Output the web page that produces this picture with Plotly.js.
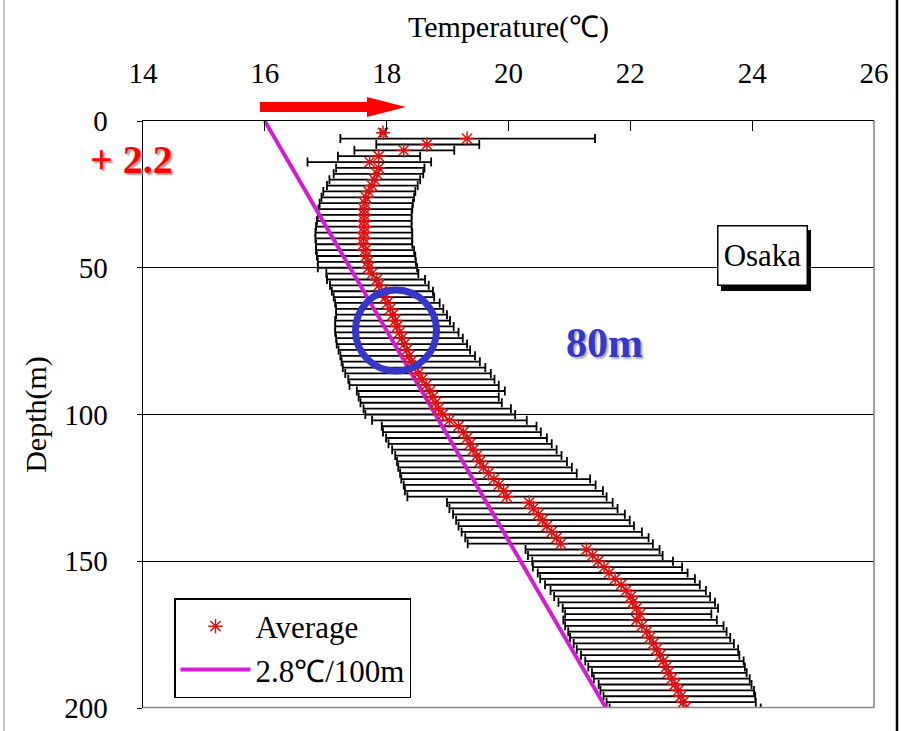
<!DOCTYPE html>
<html><head><meta charset="utf-8">
<script src="https://cdn.plot.ly/plotly-3.0.1.min.js"></script>
<style>html,body{margin:0;padding:0;background:#fff}#chart{width:901px;height:731px}</style>
</head><body><div id="chart"></div>
<script>
// ---- data ----
const depth = [4,6,8,10,12,14,16,18,20,22,24,26,28,30,32,34,36,38,40,42,44,46,48,50,
  52,54,56,58,60,62,64,66,68,70,72,74,76,78,80,82,84,86,88,90,92,94,96,98,100,
  102,104,106,108,110,112,114,116,118,120,122,124,126,128,130,132,134,136,138,140,142,144,146,148,150,
  152,154,156,158,160,162,164,166,168,170,172,174,176,178,180,182,184,186,188,190,192,194,196,198,200];
const avgT = [17.94,19.32,18.66,18.28,17.87,17.72,17.87,17.84,17.80,17.76,17.70,17.66,17.64,17.63,17.63,17.63,17.63,17.63,17.62,17.62,17.65,17.66,17.69,17.70,
  17.76,17.84,17.87,17.92,17.98,18.01,18.06,18.10,18.14,18.17,18.21,18.25,18.29,18.33,18.37,18.40,18.47,18.52,18.58,18.65,18.71,18.76,18.80,18.85,18.92,
  19.03,19.18,19.26,19.32,19.37,19.42,19.48,19.53,19.59,19.67,19.76,19.84,19.92,19.97,20.34,20.41,20.49,20.56,20.63,20.71,20.79,20.86,21.28,21.38,21.47,
  21.57,21.65,21.75,21.85,21.93,22.01,22.04,22.10,22.16,22.10,22.19,22.27,22.32,22.38,22.43,22.49,22.54,22.59,22.62,22.68,22.73,22.79,22.83,22.87,22.90];
const minT = [17.90,17.24,17.83,17.47,17.20,16.70,17.17,17.13,17.06,17.02,16.96,16.93,16.90,16.88,16.87,16.855,16.84,16.83,16.83,16.84,16.84,16.855,16.87,16.87,
  17.01,17.02,17.07,17.10,17.13,17.155,17.17,17.17,17.155,17.155,17.155,17.17,17.18,17.21,17.24,17.26,17.28,17.32,17.37,17.39,17.51,17.54,17.57,17.62,17.65,
  17.76,17.92,17.94,17.99,18.03,18.09,18.14,18.17,18.19,18.22,18.24,18.28,18.30,18.34,18.99,19.03,19.09,19.14,19.18,19.23,19.29,19.33,20.28,20.32,20.39,
  20.40,20.48,20.52,20.60,20.69,20.75,20.82,20.89,20.93,20.90,20.93,20.98,21.01,21.07,21.12,21.19,21.26,21.31,21.37,21.40,21.48,21.51,21.56,21.61,21.66];
const maxT = [17.98,21.42,19.52,19.11,18.55,18.73,18.62,18.60,18.55,18.51,18.47,18.45,18.43,18.42,18.41,18.41,18.41,18.42,18.42,18.42,18.45,18.47,18.48,18.50,
  18.52,18.63,18.69,18.76,18.78,18.87,18.93,18.99,19.04,19.10,19.18,19.25,19.32,19.37,19.45,19.53,19.62,19.71,19.77,19.84,19.94,19.84,19.89,20.04,20.11,
  20.30,20.46,20.53,20.63,20.71,20.79,20.87,20.96,21.04,21.12,21.34,21.43,21.55,21.61,21.71,21.79,21.91,21.99,22.06,22.19,22.30,22.37,22.48,22.53,22.70,
  22.85,22.94,23.06,23.14,23.24,23.31,23.39,23.44,23.33,23.42,23.53,23.58,23.64,23.70,23.77,23.79,23.86,23.88,23.91,23.96,23.99,24.03,24.05,24.06,24.14];
const gradT = [16, 21.6];
const gradDepth = [0, 200];
const xTickVals = [14, 16, 18, 20, 22, 24, 26];
const yTickVals = [0, 50, 100, 150, 200];

// ---- layout helpers (pixel -> paper) ----
const L = 143, R = 874, T = 121, B = 708;
const px = x => (x - L) / (R - L);
const py = y => (B - y) / (B - T);
const serif = '"Liberation Serif", "Times New Roman", Times, serif';

const errPlus = maxT.map((v, i) => v - avgT[i]);
const errMinus = avgT.map((v, i) => v - minT[i]);

const traces = [
  {x: avgT, y: depth, type: 'scatter', mode: 'markers',
   marker: {size: 2, opacity: 0}, showlegend: false, hoverinfo: 'skip',
   error_x: {type: 'data', symmetric: false, array: errPlus, arrayminus: errMinus,
             color: '#000', thickness: 1.8, width: 4.5}},
  {x: gradT, y: gradDepth, type: 'scatter', mode: 'lines', name: '2.8℃/100m',
   line: {color: '#d41cd4', width: 4}, legendrank: 2},
  {x: avgT, y: depth, type: 'scatter', mode: 'markers', name: 'Average',
   marker: {symbol: 'asterisk-open', size: 12, color: '#dd1010', line: {color: '#dd1010', width: 1.5}},
   legendrank: 1}
];

const arrowPts = [[260,102],[367,102],[367,97],[406,107],[367,117],[367,112],[260,112]];
const arrowPath = arrowPts.map((p, i) => (i ? 'L' : 'M') + px(p[0]) + ',' + py(p[1])).join('') + 'Z';

const layout = {
  width: 901, height: 731,
  margin: {l: 143, r: 27, t: 121, b: 23, pad: 0},
  paper_bgcolor: '#fff', plot_bgcolor: '#fff',
  font: {family: serif, color: '#000'},
  xaxis: {side: 'top', range: [14, 26], tickvals: xTickVals, ticks: 'inside', ticklen: 10,
          tickwidth: 1.3, tickcolor: '#000', showline: true, linecolor: '#000', linewidth: 1.5,
          showgrid: false, zeroline: false, tickfont: {size: 29, family: serif}, ticklabelstandoff: 25,
          title: {text: 'Temperature(℃)', font: {size: 30, family: serif}, standoff: 10}},
  yaxis: {range: [200, 0], tickvals: yTickVals, ticks: 'outside', ticklen: 5, tickcolor: '#000',
          showline: true, linecolor: '#000', linewidth: 1.5, showgrid: true, gridcolor: '#000',
          gridwidth: 1.2, zeroline: false, tickfont: {size: 29, family: serif}, ticklabelstandoff: 23,
          title: {text: 'Depth(m)', font: {size: 30, family: serif}, standoff: 8}},
  legend: {x: px(174), y: py(598), xanchor: 'left', yanchor: 'top', bordercolor: '#000',
           borderwidth: 1.5, bgcolor: '#fff', font: {size: 31, family: serif}, itemwidth: 70,
           tracegroupgap: 0},
  shapes: [
    {type: 'line', xref: 'paper', yref: 'paper', x0: px(143), x1: px(874), y0: py(707.5), y1: py(707.5),
     line: {color: '#8a8a8a', width: 1.6}, layer: 'above'},
    {type: 'line', xref: 'paper', yref: 'paper', x0: px(874), x1: px(874), y0: py(121), y1: py(708),
     line: {color: '#8a8a8a', width: 1.6}, layer: 'above'},
    {type: 'circle', xref: 'paper', yref: 'paper', x0: px(355.5), x1: px(436.5), y0: py(371), y1: py(290),
     line: {color: '#3636c8', width: 7}, layer: 'above'},
    {type: 'path', xref: 'paper', yref: 'paper', path: arrowPath, fillcolor: '#ff0000',
     line: {width: 0}, layer: 'above'},
    {type: 'rect', xref: 'paper', yref: 'paper', x0: px(721), x1: px(811), y0: py(291), y1: py(230),
     fillcolor: '#000', line: {width: 0}, layer: 'above'},
    {type: 'line', xref: 'paper', yref: 'paper', x0: px(4), x1: px(4), y0: py(0), y1: py(731),
     line: {color: '#b0b0b0', width: 1.5}, layer: 'above'},
    {type: 'line', xref: 'paper', yref: 'paper', x0: px(897), x1: px(897), y0: py(0), y1: py(731),
     line: {color: '#000', width: 2.5}, layer: 'above'}
  ],
  annotations: [
    {xref: 'paper', yref: 'paper', x: px(131), y: py(159), xanchor: 'center', yanchor: 'middle',
     showarrow: false, text: '<b>+ 2.2</b>',
     font: {size: 40, color: '#ff0000', family: serif, shadow: '2px 2px 2px #999'}},
    {xref: 'paper', yref: 'paper', x: px(604), y: py(343), xanchor: 'center', yanchor: 'middle',
     showarrow: false, text: '<b>80m</b>',
     font: {size: 42, color: '#3636c8', family: serif, shadow: '2px 2px 2px #aaa'}},
    {xref: 'paper', yref: 'paper', x: px(762), y: py(256), xanchor: 'center', yanchor: 'middle',
     showarrow: false, text: 'Osaka', bgcolor: '#fff', bordercolor: '#000', borderwidth: 1.5,
     borderpad: 1, width: 86, height: 56, font: {size: 31, color: '#000', family: serif}}
  ]
};

Plotly.newPlot('chart', traces, layout, {displayModeBar: false, staticPlot: true});
</script>
</body></html>
